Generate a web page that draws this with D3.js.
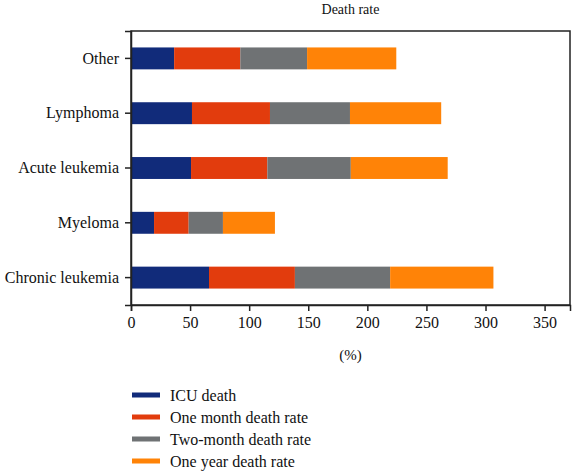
<!DOCTYPE html>
<html><head><meta charset="utf-8">
<script src="https://cdn.jsdelivr.net/npm/d3@7"></script>
<style>body{margin:0;background:#fff}svg{display:block}svg text{font-family:"Liberation Serif","DejaVu Serif",serif !important;fill:#111}</style>
</head><body><svg id="c" width="572" height="471"></svg>
<script>
const categories = ["Other","Lymphoma","Acute leukemia","Myeloma","Chronic leukemia"];
const seriesNames = ["ICU death","One month death rate","Two-month death rate","One year death rate"];
const icuDeath      = [36.5, 51.6, 50.8, 19.5, 66.0];
const oneMonth      = [56.0, 66.0, 64.6, 29.3, 72.7];
const twoMonth      = [56.5, 67.7, 70.6, 29.0, 80.6];
const oneYear       = [75.5, 77.2, 82.0, 44.0, 87.4];
const xTicks = [0,50,100,150,200,250,300,350];
const colors = ["#112b7a","#e23c0d","#6f7274","#ff8307"];

const svg = d3.select("#c");
const m = {l:131, r:570, t:31, b:305};
const x = d3.scaleLinear().domain([0,371.5]).range([m.l, m.r]);
const y = d3.scaleBand().domain(categories).range([m.t, m.b]).paddingInner(0.6).paddingOuter(0.3);

const rows = categories.map((c,i)=>({cat:c, ICU:icuDeath[i], M1:oneMonth[i], M2:twoMonth[i], Y1:oneYear[i]}));
const keys = ["ICU","M1","M2","Y1"];
const stacked = d3.stack().keys(keys)(rows);

svg.append("g").selectAll("g").data(stacked).join("g").attr("fill",(d,i)=>colors[i])
  .selectAll("rect").data(d=>d).join("rect")
  .attr("x",d=>x(d[0])).attr("width",d=>x(d[1])-x(d[0]))
  .attr("y",d=>y(d.data.cat)).attr("height",y.bandwidth());

// frame
svg.append("rect").attr("x",m.l).attr("y",m.t).attr("width",m.r-m.l).attr("height",m.b-m.t)
  .attr("fill","none").attr("stroke","#222").attr("stroke-width",1.5);

const xa = svg.append("g").attr("transform",`translate(0,${m.b})`)
  .call(d3.axisBottom(x).tickValues(xTicks).tickSize(6).tickPadding(6));
const ya = svg.append("g").attr("transform",`translate(${m.l},0)`)
  .call(d3.axisLeft(y).tickSize(6).tickPadding(6));
[xa,ya].forEach(a=>{a.attr("font-family",null).attr("font-size",null);
  a.select(".domain").attr("stroke","#222").attr("stroke-width",1.5);
  a.selectAll(".tick line").attr("stroke","#222").attr("stroke-width",1.5);
  a.selectAll("text").style("font-size","16px").attr("fill","#111");});

svg.append("text").attr("x",(m.l+m.r)/2).attr("y",14).attr("text-anchor","middle").style("font-size","14px").text("Death rate");
svg.append("text").attr("x",(m.l+m.r)/2).attr("y",360).attr("text-anchor","middle").style("font-size","15px").text("(%)");

const lg = svg.append("g").selectAll("g").data(seriesNames).join("g")
  .attr("transform",(d,i)=>`translate(132,${395+i*22})`);
lg.append("rect").attr("x",0).attr("y",-2.5).attr("width",28).attr("height",5).attr("fill",(d,i)=>colors[i]);
lg.append("text").attr("x",38).attr("y",0).attr("dy","0.35em").style("font-size","16px").text(d=>d);
</script></body></html>
